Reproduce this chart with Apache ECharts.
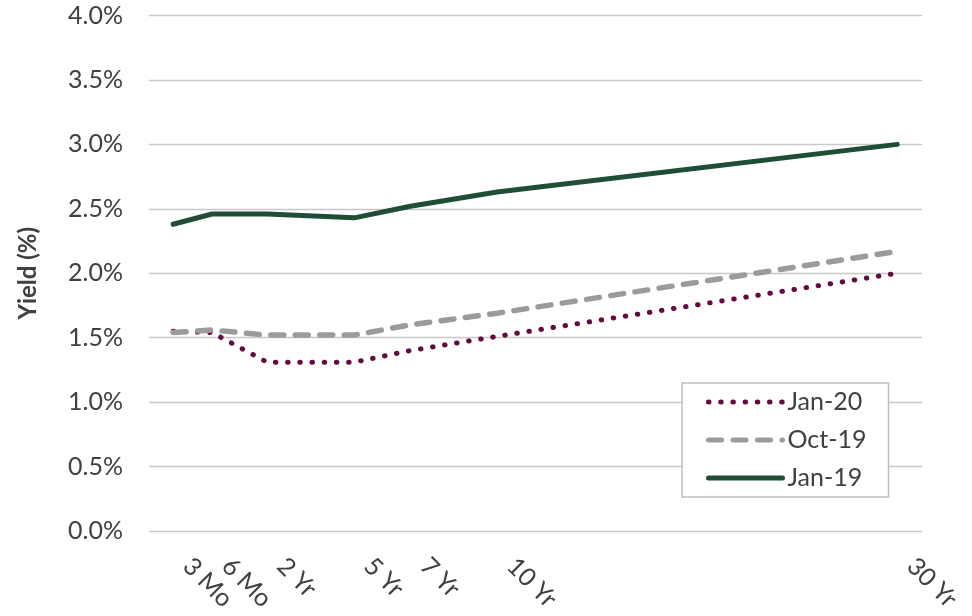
<!DOCTYPE html>
<html>
<head>
<meta charset="utf-8">
<script src="https://cdn.jsdelivr.net/npm/echarts@6/dist/echarts.min.js"></script>
<style>
  html, body { margin: 0; padding: 0; background: #ffffff; }
  #chart { width: 972px; height: 616px; }
</style>
</head>
<body>
<div id="chart"></div>
<script>
// Treasury maturities and where each sits along the horizontal scale
const tenorLabels = ['3 Mo', '6 Mo', '2 Yr', '5 Yr', '7 Yr', '10 Yr', '30 Yr'];
const tenorX = [0.25, 1.85, 4.11, 7.69, 10.0, 13.56, 30.0];

// Yields in percent
const jan20 = [1.55, 1.54, 1.31, 1.31, 1.40, 1.51, 2.00];
const oct19 = [1.54, 1.56, 1.52, 1.52, 1.60, 1.69, 2.17];
const jan19 = [2.38, 2.46, 2.46, 2.43, 2.52, 2.63, 3.00];

const yTicks = [0, 0.5, 1.0, 1.5, 2.0, 2.5, 3.0, 3.5, 4.0];

const FONT = 'Lato, "Open Sans", sans-serif';
const TEXT = '#404040';

function pairs(values) {
  return tenorX.map((x, i) => [x, values[i]]);
}

const chart = echarts.init(document.getElementById('chart'), null, { renderer: 'canvas' });

chart.setOption({
  animation: false,
  backgroundColor: '#ffffff',
  grid: {
    left: 149, right: 50, top: 15.5, bottom: 85,
    containLabel: false,
    outerBoundsMode: 'none'
  },
  legend: {
    orient: 'vertical',
    left: 682,
    top: 383,
    padding: [5, 22, 5, 24],
    itemGap: 10,
    itemWidth: 74,
    itemHeight: 14,
    backgroundColor: '#ffffff',
    borderColor: '#bfbfbf',
    borderWidth: 1.5,
    borderRadius: 0,
    // line-only keys: hide the marker dot, keep each series' stroke
    itemStyle: { opacity: 0 },
    lineStyle: { width: 5, type: 'inherit', cap: 'round' },
    textStyle: { fontFamily: FONT, fontSize: 25, color: TEXT, lineHeight: 28 },
    data: ['Jan-20', 'Oct-19', 'Jan-19']
  },
  xAxis: {
    type: 'value',
    min: -0.74,
    max: 31.02,
    splitLine: { show: false },
    axisLine: { show: false },
    axisTick: { show: false },
    axisLabel: {
      customValues: tenorX,
      rotate: -45,
      margin: 17,
      padding: [0, 0, 0, 20],
      fontFamily: FONT,
      fontSize: 25,
      color: TEXT,
      formatter: function (v) {
        const i = tenorX.findIndex(x => Math.abs(x - v) < 1e-6);
        return i >= 0 ? tenorLabels[i] : '';
      }
    }
  },
  yAxis: {
    type: 'value',
    min: yTicks[0],
    max: yTicks[yTicks.length - 1],
    interval: 0.5,
    name: 'Yield (%)',
    nameLocation: 'middle',
    nameGap: 109,
    nameRotate: 90,
    nameTextStyle: { fontFamily: FONT, fontSize: 24, fontWeight: 'bold', color: TEXT },
    axisLine: { show: false },
    axisTick: { show: false },
    splitLine: { lineStyle: { color: '#c8c8c8', width: 1.4 } },
    axisLabel: {
      margin: 26,
      fontFamily: FONT,
      fontSize: 25,
      color: TEXT,
      formatter: v => v.toFixed(1) + '%'
    }
  },
  series: [
    {
      name: 'Jan-20',
      type: 'line',
      data: pairs(jan20),
      symbol: 'none',
      color: '#640a3f',
      lineStyle: { color: '#640a3f', width: 5, type: [0.5, 11.7], cap: 'round' },
      z: 2
    },
    {
      name: 'Oct-19',
      type: 'line',
      data: pairs(oct19),
      symbol: 'none',
      color: '#9b9b9b',
      lineStyle: { color: '#9b9b9b', width: 5.5, type: [13, 11.5], cap: 'round' },
      z: 3
    },
    {
      name: 'Jan-19',
      type: 'line',
      data: pairs(jan19),
      symbol: 'none',
      color: '#1f4d37',
      lineStyle: { color: '#1f4d37', width: 5, cap: 'round', join: 'round' },
      z: 4
    }
  ]
});
</script>
</body>
</html>
